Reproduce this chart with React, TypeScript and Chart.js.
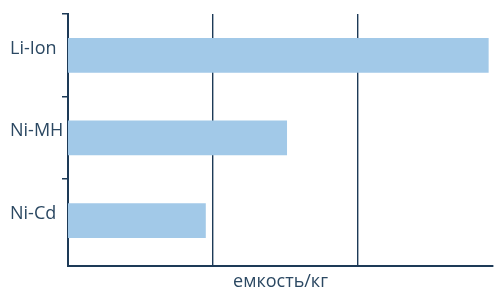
import React, { useEffect, useRef } from "react";
import { Chart, registerables } from "chart.js";

Chart.register(...registerables);

const categories = ["Li-Ion", "Ni-MH", "Ni-Cd"];
const capacity = [290, 151, 95];
const axisMax = 293;
const gridValues = [100, 200];
const xTitle = "емкость/кг";

const DARK = "#1d3a57";
const TEXT = "#2b4862";
const BAR = "#a2c9e8";
const FONT = "'Open Sans', sans-serif";

export default function App() {
  const ref = useRef<HTMLCanvasElement | null>(null);
  useEffect(() => {
    if (!ref.current) return;
    const chart = new Chart(ref.current, {
      type: "bar",
      data: {
        labels: categories,
        datasets: [
          {
            data: capacity,
            backgroundColor: BAR,
            borderWidth: 0,
            barPercentage: 0.42,
            categoryPercentage: 1,
          },
        ],
      },
      options: {
        indexAxis: "y",
        responsive: false,
        animation: false,
        layout: { padding: { top: 14, right: 1, left: 10, bottom: 0 } },
        plugins: { legend: { display: false }, tooltip: { enabled: false } },
        scales: {
          x: {
            type: "linear",
            min: 0,
            max: axisMax,
            ticks: { display: false },
            afterBuildTicks: (scale: any) => {
              scale.ticks = gridValues.map((v) => ({ value: v }));
            },
            grid: {
              display: true,
              drawOnChartArea: true,
              drawTicks: false,
              color: DARK,
              lineWidth: 1.4,
            },
            border: { display: true, color: DARK, width: 2 },
            title: {
              display: true,
              text: xTitle,
              color: TEXT,
              font: { family: FONT, size: 18, lineHeight: 1 },
              padding: 0,
            },
            afterFit: (scale: any) => {
              scale.height = 25;
            },
          },
          y: {
            type: "category",
            offset: true,
            afterBuildTicks: (scale: any) => {
              scale._valueRange = categories.length + 0.05;
            },
            grid: {
              drawOnChartArea: false,
              drawTicks: true,
              tickLength: 6,
              offset: true,
              color: (ctx: any) => (ctx.tick ? DARK : "rgba(0,0,0,0)"),
              lineWidth: 1.5,
            },
            border: { display: true, color: DARK, width: 2 },
            ticks: {
              color: TEXT,
              padding: 7,
              crossAlign: "far",
              font: { family: FONT, size: 18, lineHeight: 0.75 },
              callback: (_v: any, i: number) => [categories[i], ""],
            },
            afterFit: (scale: any) => {
              scale.width = 58;
              scale.paddingTop = 0;
              scale.paddingBottom = 0;
            },
          },
        },
      },
    });
    return () => chart.destroy();
  }, []);
  return (
    <div style={{ position: "fixed", left: 0, top: 0, width: 494, height: 291, background: "#fff" }}>
      <canvas ref={ref} width={494} height={291} style={{ display: "block" }} />
    </div>
  );
}
